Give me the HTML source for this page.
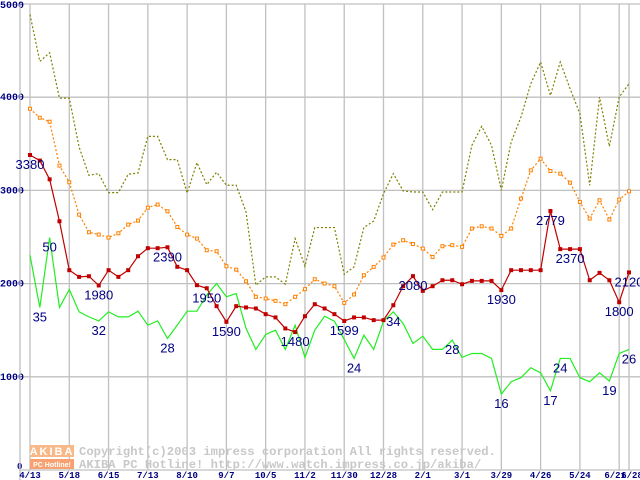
<!DOCTYPE html>
<html><head><meta charset="utf-8"><style>
html,body{margin:0;padding:0;background:#fff;}
svg{display:block;}
</style></head><body>
<svg id="chart" width="640" height="480" viewBox="0 0 640 480" xmlns="http://www.w3.org/2000/svg">
<g id="grid"></g>
<g id="watermark">
<rect x="30" y="445" width="44" height="12" fill="#f8b888"/>
<text x="52" y="455" text-anchor="middle" font-family="Liberation Sans, sans-serif" font-size="11" font-weight="bold" fill="#fff" letter-spacing="2">AKIBA</text>
<rect x="30" y="459" width="44" height="10" fill="#f8a070"/>
<text x="52" y="467" text-anchor="middle" font-family="Liberation Sans, sans-serif" font-size="7" font-weight="bold" fill="#fff">PC Hotline!</text>
<text x="79" y="455" font-family="Liberation Mono, monospace" font-size="12.2" font-weight="bold" fill="#c8c8c8">Copyright(c)2003 impress corporation All rights reserved.</text>
<text x="79" y="468" font-family="Liberation Mono, monospace" font-size="12.2" font-weight="bold" fill="#c8c8c8">AKIBA PC Hotline!  http://www.watch.impress.co.jp/akiba/</text>
</g>
<g id="series"></g>
<g id="labels"></g>
</svg>
<script>
const xLabels = ["4/13","5/18","6/15","7/13","8/10","9/7","10/5","11/2","11/30","12/28","2/1","3/1","3/29","4/26","5/24","6/21","6/28"];
const xLabelIdx = [0,4,8,12,16,20,24,28,32,36,40,44,48,52,56,60,61];
const yTicks = [0,1000,2000,3000,4000,5000];
const olive = [4887,4384,4477,3990,3990,3465,3162,3180,2976,2976,3173,3187,3580,3580,3330,3330,2972,3298,3062,3195,3055,3055,2769,1983,2072,2072,1993,2483,2186,2601,2601,2601,2100,2180,2601,2672,2965,3180,2994,2983,2983,2794,2983,2983,2983,3483,3687,3483,3001,3519,3787,4145,4377,4019,4377,4091,3823,3055,4001,3472,4001,4145];
const orange = [3876,3780,3737,3266,3087,2740,2551,2526,2494,2540,2633,2676,2815,2848,2776,2608,2526,2483,2358,2347,2186,2150,2025,1858,1840,1815,1779,1858,1940,2047,2001,1972,1793,1883,2090,2179,2280,2419,2465,2425,2376,2286,2401,2412,2394,2591,2615,2591,2512,2591,2912,3215,3340,3208,3180,3083,2876,2698,2894,2687,2901,2990];
const red = [3380,3320,3119,2669,2144,2072,2079,1980,2144,2072,2144,2294,2380,2380,2390,2180,2144,1983,1950,1758,1590,1758,1744,1733,1672,1637,1519,1480,1650,1779,1733,1672,1599,1637,1637,1608,1608,1768,1972,2080,1922,1972,2036,2036,1993,2029,2029,2029,1930,2144,2144,2144,2144,2779,2370,2370,2370,2036,2115,2036,1800,2120];
const green = [2304,1744,2494,1744,1937,1697,1643,1600,1697,1643,1643,1704,1554,1600,1411,1554,1704,1704,1876,2001,1858,1893,1519,1294,1454,1500,1294,1554,1208,1500,1650,1597,1401,1197,1447,1294,1597,1697,1572,1358,1436,1294,1294,1393,1208,1250,1250,1197,815,947,990,1097,1043,850,1197,1197,990,947,1043,954,1250,1294];
const redLabelIdx = [0,7,14,18,20,27,32,39,48,53,55,60,61];
const redLabelText = ["3380","1980","2390","1950","1590","1480","1599","2080","1930","2779","2370","1800","2120"];
const greenLabelIdx = [1,2,7,14,33,37,43,48,53,54,59,61];
const greenLabelText = ["35","50","32","28","24","34","28","16","17","24","19","26"];

const NS="http://www.w3.org/2000/svg";
function xs(i){return 30+i*(599/61);}
function ys(v){return 470-v*0.0932;}
function mk(tag,attrs,parent){const e=document.createElementNS(NS,tag);for(const k in attrs)e.setAttribute(k,attrs[k]);parent.appendChild(e);return e;}
const grid=document.getElementById('grid'),series=document.getElementById('series'),labels=document.getElementById('labels');

yTicks.forEach(v=>{
  if(v>0){const l=mk('line',{x1:20,x2:640,y1:ys(v),y2:ys(v),stroke:'#c0c0c0','stroke-width':1.3},grid);
  
  }
  const t=mk('text',{x:v===0?17:0,y:v===0?ys(v)-1:Math.max(ys(v)+3,8),'font-family':'Liberation Mono, monospace','font-size':v===0?9:10,'font-weight':'bold',fill:'#000080'},grid);
  t.textContent=v;
  
  
});
const ax=mk('line',{x1:20,x2:20,y1:ys(5000),y2:480,stroke:'#c0c0c0','stroke-width':1.3},grid);


const bx=mk('line',{x1:20,x2:640,y1:470,y2:470,stroke:'#c0c0c0','stroke-width':1.3},grid);


xLabelIdx.forEach((ix,k)=>{
  const l=mk('line',{x1:xs(ix),x2:xs(ix),y1:ys(5000),y2:470,stroke:'#c0c0c0','stroke-width':1.3},grid);
  
  
  const t=mk('text',{x:xs(ix)+(k===15?-4:(k===16?3:0)),y:478,'text-anchor':'middle','font-family':'Liberation Mono, monospace','font-size':9,'font-weight':'bold',fill:'#000080'},grid);
  t.textContent=xLabels[k];
  
  
});

function line(data,color,dash,name){
  const p=mk('polyline',{points:data.map((v,i)=>xs(i)+','+ys(v)).join(' '),fill:'none',stroke:color,'stroke-width':1.2},series);
  if(dash)p.setAttribute('stroke-dasharray',dash);
  
  
}
line(olive,'#808000','2,2','olive-series-line');
line(orange,'#ff8000','2,2','orange-series-line');
orange.forEach((v,i)=>{
  const r=mk('rect',{x:xs(i)-1.5,y:ys(v)-1.5,width:3,height:3,fill:'#fff',stroke:'#ff8000','stroke-width':1},series);
  
  
});
line(green,'#22ee22',null,'green-series-line');
line(red,'#c00000',null,'red-series-line');
red.forEach((v,i)=>{
  const r=mk('rect',{x:xs(i)-2,y:ys(v)-2,width:4,height:4,fill:'#c00000'},series);
  
  
});
function lab(idx,txt,data,name){
  idx.forEach((ix,k)=>{
    const t=mk('text',{x:xs(ix),y:ys(data[ix])+14,'text-anchor':'middle','font-family':'Liberation Sans, sans-serif','font-size':13,fill:'#000080'},labels);
    t.textContent=txt[k];
    
    
  });
}
lab(redLabelIdx,redLabelText,red,'red-value-label');
lab(greenLabelIdx,greenLabelText,green,'green-value-label');
</script>
</body></html>
